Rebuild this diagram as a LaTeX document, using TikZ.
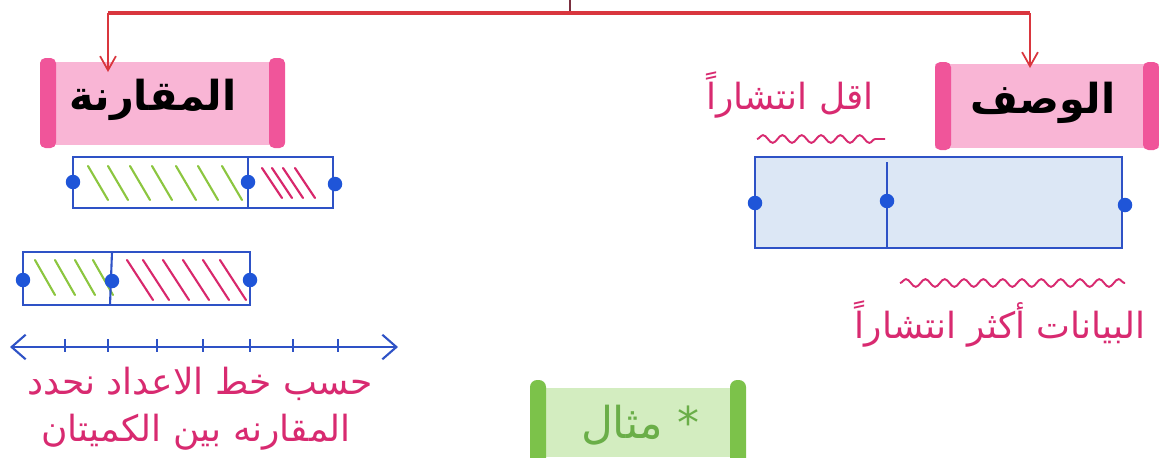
\documentclass[tikz,border=0pt]{standalone}
\usepackage{fontspec}
\newfontfamily\arabicfont[Script=Arabic]{DejaVu Sans}
\TeXXeTstate=1
\usetikzlibrary{arrows.meta,decorations.pathmorphing}
\definecolor{lineRed}{HTML}{D9363E}
\definecolor{stubDark}{HTML}{7A3040}
\definecolor{pinkFill}{HTML}{F9B5D5}
\definecolor{pinkBar}{HTML}{F0559A}
\definecolor{pinkText}{HTML}{D82A70}
\definecolor{boxBlue}{HTML}{2E52C6}
\definecolor{dotBlue}{HTML}{1F55D8}
\definecolor{boxFill}{HTML}{DCE7F5}
\definecolor{hatchGreen}{HTML}{8CC640}
\definecolor{hatchRed}{HTML}{D8286C}
\definecolor{greenFill}{HTML}{D3EDC0}
\definecolor{greenBar}{HTML}{7CC24A}
\definecolor{greenText}{HTML}{6AAE48}
\begin{document}
\begin{tikzpicture}[x=0.02cm,y=-0.02cm,
  redline/.style={draw=lineRed, line width=1.8pt},
  redarrow/.style={draw=lineRed, line width=1pt, -{Straight Barb[length=8pt,width=9pt]}},
  bluebox/.style={draw=boxBlue, line width=1.2pt},
  bdot/.style={circle, fill=dotBlue, inner sep=0pt, minimum size=0.29cm},
  ghatch/.style={draw=hatchGreen, line width=1.2pt, line cap=round},
  rhatch/.style={draw=hatchRed, line width=1.2pt, line cap=round},
  wavy/.style={draw=pinkText, line width=1.1pt, decorate, decoration={snake, amplitude=2.2pt, segment length=11pt}},
  blacklabel/.style={font=\arabicfont\bfseries\fontsize{23.5}{27}\selectfont, text=black, inner sep=0pt},
  pinklabel/.style={font=\arabicfont\fontsize{20.5}{24}\selectfont, text=pinkText, inner sep=0pt},
  greenlabel/.style={font=\arabicfont\fontsize{25}{28}\selectfont, text=greenText, inner sep=0pt}
]
\useasboundingbox (0,0) rectangle (1159,457);

% ---------- pink title boxes ----------
\fill[pinkFill] (40,62) rectangle (285,145);
\fill[pinkBar, rounded corners=3pt] (40,58) rectangle (56,148);
\fill[pinkBar, rounded corners=3pt] (269,58) rectangle (285,148);
\node[blacklabel] (comp) at (153,100) {\beginR المقارنة\endR};

\fill[pinkFill] (935,64) rectangle (1159,148);
\fill[pinkBar, rounded corners=3pt] (935,62) rectangle (951,150);
\fill[pinkBar, rounded corners=3pt] (1143,62) rectangle (1159,150);
\node[blacklabel] (desc) at (1043,103) {\beginR الوصف\endR};

% ---------- red connectors ----------
\coordinate (top) at (570,0);
\coordinate (junc) at (570,13);
\coordinate (lcorner) at (108,13);
\coordinate (rcorner) at (1030,13);
\coordinate (ltip) at (108,72);
\coordinate (rtip) at (1030,68);
\draw[stubDark, line width=1pt] (top) -- (junc);
\draw[redline] (lcorner) -- (rcorner);
\draw[redarrow] (lcorner) -- (ltip);
\draw[redarrow] (rcorner) -- (rtip);

% ---------- left box 1 ----------
\foreach \x in {88,108,130,152,176,198,222}
  \draw[ghatch] (\x,166) -- (\x+20,200);
\foreach \x in {262,272,283,295}
  \draw[rhatch] (\x,168) -- (\x+20,198);
\draw[bluebox] (73,157) rectangle (333,208);
\draw[bluebox] (248,157) -- (248,208);
\node[bdot] (a1) at (73,182) {};
\node[bdot] (a2) at (248,182) {};
\node[bdot] (a3) at (335,184) {};

% ---------- left box 2 ----------
\foreach \x in {35,55,75,93}
  \draw[ghatch] (\x,260) -- (\x+20,295);
\foreach \x in {127,143,163,183,203,220}
  \draw[rhatch] (\x,260) -- (\x+26,300);
\draw[bluebox] (23,252) rectangle (250,305);
\draw[bluebox] (112,252) -- (110,305);
\node[bdot] (b1) at (23,280) {};
\node[bdot] (b2) at (112,281) {};
\node[bdot] (b3) at (250,280) {};

% ---------- number line ----------
\coordinate (nl) at (10,347);
\coordinate (nr) at (398,347);
\draw[boxBlue, line width=1.2pt, {Straight Barb[length=8pt,width=14pt]}-{Straight Barb[length=8pt,width=14pt]}] (nl) -- (nr);
\foreach \x in {65,108,157,203,250,293,338}
  \draw[boxBlue, line width=1.1pt] (\x,339) -- (\x,352);

\node[pinklabel] (t1) at (200,384) {\beginR حسب خط الاعداد نحدد\endR};
\node[pinklabel] (t2) at (196,432) {\beginR المقارنه بين الكميتان\endR};

% ---------- right side ----------
\node[pinklabel] (less) at (790,95) {\beginR اقل انتشاراً\endR};
\draw[wavy] (757,139) -- (885,139);

\fill[boxFill] (755,157) rectangle (1122,248);
\draw[bluebox] (755,157) rectangle (1122,248);
\draw[bluebox] (887,162) -- (887,248);
\node[bdot] (c1) at (755,203) {};
\node[bdot] (c2) at (887,201) {};
\node[bdot] (c3) at (1125,205) {};

\draw[wavy] (900,283) -- (1125,283);
\node[pinklabel] (more) at (1000,324) {\beginR البيانات أكثر انتشاراً\endR};

% ---------- green box ----------
\fill[greenFill] (540,388) rectangle (738,457);
\fill[greenBar, rounded corners=4pt] (530,380) rectangle (546,470);
\fill[greenBar, rounded corners=4pt] (730,380) rectangle (746,470);
\node[greenlabel] (ex) at (640,425) {\beginR * مثال\endR};
\end{tikzpicture}
\end{document}
